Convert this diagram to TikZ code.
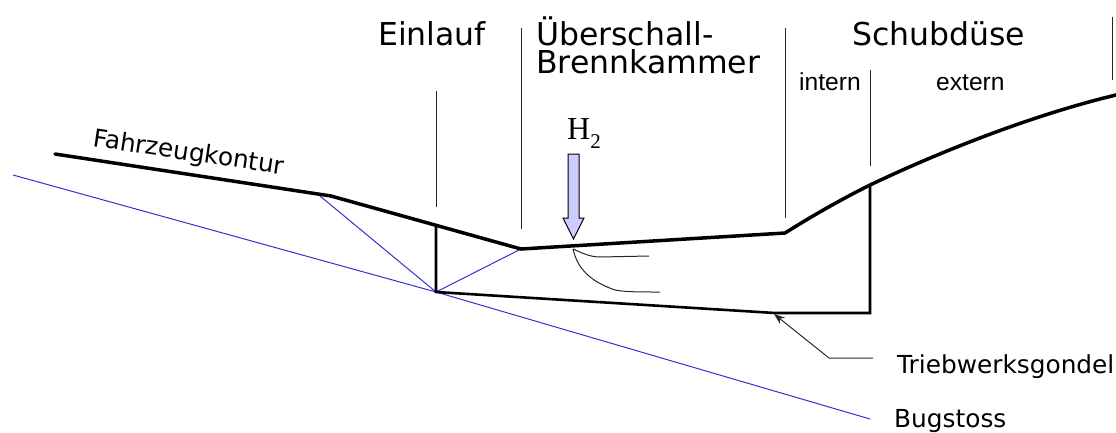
\documentclass[tikz,border=0pt]{standalone}
\usepackage{fontspec}
\setmainfont{DejaVu Sans}
\newfontfamily\arialfont{Liberation Sans}
\newfontfamily\timesfont{Liberation Serif}
\usetikzlibrary{arrows.meta}
\definecolor{shockblue}{RGB}{50,50,210}
\definecolor{arrowfill}{RGB}{204,204,255}
\begin{document}
\begin{tikzpicture}[x=1pt,y=-1pt,
  thick line/.style={line width=3.5pt,line join=miter,line cap=round},
  gondel/.style={line width=2.6pt,line join=miter},
  thin line/.style={line width=1pt,black!85},
  shock/.style={line width=1pt,shockblue},
  big/.style={anchor=base west,inner sep=0pt,font=\fontsize{31.5}{32}\selectfont},
  mid/.style={anchor=base west,inner sep=0pt,font=\fontsize{24.8}{25}\selectfont},
  small/.style={anchor=base west,inner sep=0pt,font=\arialfont\fontsize{24.6}{25}\selectfont}]
\useasboundingbox (0,0) rectangle (1116,432);
% bow shock
\coordinate (b1) at (13,175);
\coordinate (b2) at (436,292);
\coordinate (b3) at (870,419);
\coordinate (s0) at (320,196);
\draw[shock] (b1) -- (b2) -- (b3);
% vehicle contour
\coordinate (f1) at (55,154);
\coordinate (f2) at (331,196);
\coordinate (f3) at (521,249);
\coordinate (f4) at (785,233);
\coordinate (f5) at (870,185);
\coordinate (f6) at (1118,94.5);
\draw[shock] (s0) -- (b2) -- (f3);
\draw[thick line] (f1) -- (f2) -- (f3) -- (f4) .. controls (812,216) and (840,200) .. (f5) .. controls (950,147) and (1040,113) .. (f6);
% nacelle
\coordinate (n1) at (436,225);
\coordinate (n3) at (775,313);
\coordinate (n4) at (870,313);
\draw[gondel] (n1) -- (b2) -- (n3) -- (n4) -- (f5);
% dividers
\coordinate (d1) at (436,91);
\coordinate (d1e) at (436,207);
\coordinate (d2) at (521,28);
\coordinate (d2e) at (521,229);
\coordinate (d3) at (785,28);
\coordinate (d3e) at (785,218);
\coordinate (d4) at (870,70);
\coordinate (d4e) at (870,166);
\coordinate (d5) at (1112,17);
\coordinate (d5e) at (1112,80);
\foreach \a/\b in {d1/d1e,d2/d2e,d3/d3e,d4/d4e,d5/d5e} \draw[thin line] (\a) -- (\b);
% H2 arrow
\draw[line width=1pt,fill=arrowfill] (568,154) -- (579,154) -- (579,218) -- (584,218) -- (573.5,239) -- (563,218) -- (568,218) -- cycle;
% mixing
\coordinate (m1) at (573,249);
\coordinate (m2) at (649,256);
\coordinate (m3) at (660,292);
\draw[thin line] (m1) .. controls (582,253) and (590,257) .. (600,257) -- (m2);
\draw[thin line] (m1) .. controls (578,272) and (595,283) .. (615,290) .. controls (625,292) and (640,292) .. (m3);
% leader
\coordinate (l1) at (774,314);
\coordinate (l2) at (829,358);
\coordinate (l3) at (873,358);
\draw[thin line,-{Stealth[length=11pt,width=8pt]}] (l3) -- (l2) -- (l1);
% texts
\node[big] (t1) at (378,45) {Einlauf};
\node[big] (t2) at (536,45) {Überschall-};
\node[big] (t3) at (536,73.5) {Brennkammer};
\node[big] (t4) at (852,45) {Schubdüse};
\node[small] (t5) at (799,90) {intern};
\node[small] (t6) at (936,90) {extern};
\node[mid,rotate=-8.5] (t7) at (92,146) {Fahrzeugkontur};
\node[mid] (t8) at (897,373) {Triebwerksgondel};
\node[mid] (t9) at (894,427) {Bugstoss};
\node[anchor=base west,inner sep=0pt,font=\timesfont\fontsize{32}{32}\selectfont] (t10) at (567,139) {H\raisebox{-9pt}{\fontsize{21}{21}\selectfont 2}};
\end{tikzpicture}
\end{document}
